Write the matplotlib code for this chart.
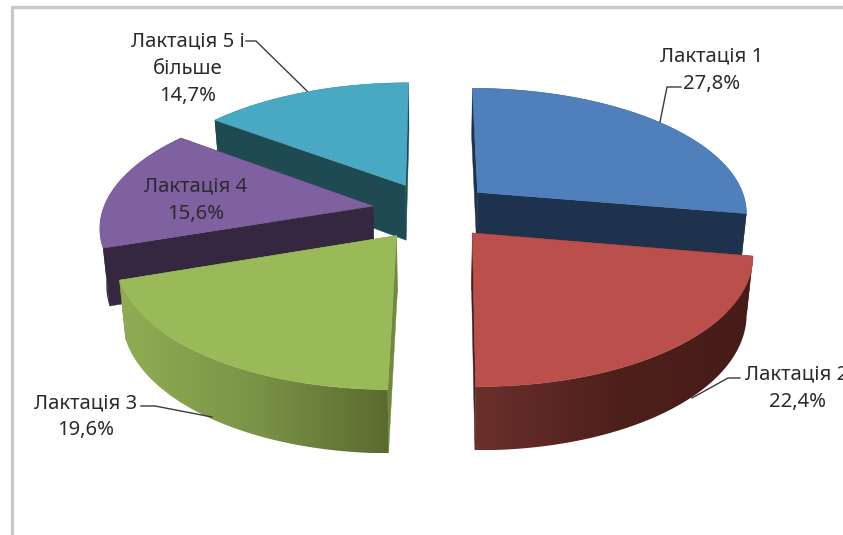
import numpy as np
import matplotlib
matplotlib.use('Agg')
import matplotlib.pyplot as plt
from matplotlib.colors import LinearSegmentedColormap
from matplotlib.patches import Polygon

plt.rcParams['font.family'] = ['Noto Sans', 'DejaVu Sans']

# ── Data ──────────────────────────────────────────────────────────────────────
labels = ['Лактація 1', 'Лактація 2', 'Лактація 3', 'Лактація 4', 'Лактація 5 і\nбільше']
values = [27.8, 22.4, 19.6, 15.6, 14.7]

top_colors = ['#4f80bb', '#bb4f4b', '#9aba59', '#7f60a0', '#49a8c2']
cut_colors = ['#1e324e', '#4a1d1a', '#6f8a3e', '#35273f', '#1f4a52']
# wall colours, left to right across the slice
wall_stops = [
    ['#1e324e', '#1e324e', '#1e324e'],
    ['#6b302c', '#4e201c', '#461b18'],
    ['#90ad54', '#7a9447', '#5a6b30'],
    ['#35273f', '#35273f', '#35273f'],
    ['#1f4a52', '#1f4a52', '#1f4a52'],
]

# small per-slice shift on screen, the exploded slices are not quite regular
nudges = [(6, -2), (6, 3.5), (-2, 5), (-5, 0), (-2, -3)]

label_pos = [(712, 55), (797, 373), (86, 402), (196, 185), (188, 40)]
leaders = [
    [(660, 122), (667, 87), (681, 87)],
    [(692, 398), (728, 378), (740, 378)],
    [(212, 417), (155, 406), (141, 406)],
    None,
    [(307, 91), (256, 41), (246, 41)],
]

# ── Projection of the tilted, exploded disc ───────────────────────────────────
CX, CY = 431, 210
RX, RY = 270, 124
PERSP = 0.15
EXPLODE = 0.2
DEPTH = 56


def project(wx, wy, lower=False):
    w = 1.0 / (1.0 + PERSP * wy)
    x = RX * wx * w
    y = CY - RY * wy * w
    if lower:
        x = x * 0.98
        y = y + DEPTH * (1 - 0.12 * wy)
    return CX + x, y


edges = np.cumsum([0] + values) / sum(values) * 2 * np.pi

fig = plt.figure(figsize=(8.43, 5.35), dpi=100)
ax = fig.add_axes([0, 0, 1, 1])

# frame is cut by the right and bottom of the picture
ax.plot([12, 12, 850], [540, 7, 7], color='#c8c8c8', lw=2.4, solid_joinstyle='round', zorder=0)

# back slices first
for z, i in enumerate([4, 0, 3, 1, 2]):
    a0, a1 = edges[i], edges[i + 1]
    mid = (a0 + a1) / 2
    ox, oy = EXPLODE * np.sin(mid), EXPLODE * np.cos(mid)
    th = np.linspace(a0, a1, 120)
    wx = ox + np.sin(th)
    wy = oy + np.cos(th)
    nx, ny = nudges[i]
    base = 10 * (z + 1)

    # cut faces
    for a in (a0, a1):
        ex, ey = ox + np.sin(a), oy + np.cos(a)
        quad = np.array([project(ox, oy), project(ex, ey), project(ex, ey, True), project(ox, oy, True)])
        ax.add_patch(Polygon(quad + [nx, ny], facecolor=cut_colors[i], edgecolor=cut_colors[i],
                             lw=0.3, zorder=base))

    # outer wall, shaded from left to right through a clipped gradient
    ux, uy = project(wx, wy)
    lx, ly = project(wx, wy, True)
    wall = np.c_[np.r_[ux, lx[::-1]], np.r_[uy, ly[::-1]]] + [nx, ny]
    cmap = LinearSegmentedColormap.from_list('wall', wall_stops[i])
    grad = np.linspace(0, 1, 256).reshape(1, -1)
    im = ax.imshow(grad, cmap=cmap, aspect='auto', zorder=base + 1,
                   extent=(wall[:, 0].min(), wall[:, 0].max(), wall[:, 1].max(), wall[:, 1].min()))
    patch = Polygon(wall, facecolor='none', edgecolor='none', transform=ax.transData)
    ax.add_patch(patch)
    im.set_clip_path(patch)

    # top
    sx, sy = project(np.r_[ox, wx], np.r_[oy, wy])
    ax.add_patch(Polygon(np.c_[sx, sy] + [nx, ny], facecolor=top_colors[i], edgecolor=top_colors[i],
                         lw=0.4, zorder=base + 2))

ax.set_xlim(0, 843)
ax.set_ylim(535, 0)
ax.axis('off')

# ── Labels and leader lines ───────────────────────────────────────────────────
for i in range(len(values)):
    x, y = label_pos[i]
    txt = labels[i] + '\n' + f'{values[i]:.1f}%'.replace('.', ',')
    ax.text(x, y - 9, txt, ha='center', va='top', fontsize=14.6, color='#2b2b2b',
            linespacing=1.5, zorder=100)
    if leaders[i] is not None:
        pts = np.array(leaders[i])
        ax.plot(pts[:, 0], pts[:, 1], color='#3a3a3a', lw=1.0, zorder=99)

fig.savefig('out.png', dpi=100)
